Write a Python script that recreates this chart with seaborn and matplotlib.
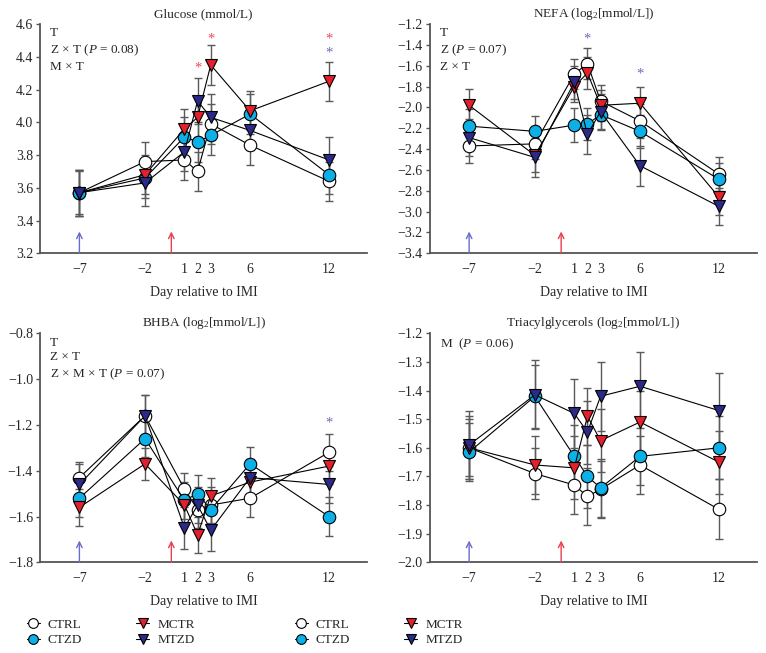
import numpy as np
import pandas as pd
import seaborn as sns
import matplotlib.pyplot as plt
from matplotlib.lines import Line2D
from matplotlib.ticker import FuncFormatter

# days of sampling
days = [-7, -2, 1, 2, 3, 6, 12]
day_labels = ["\u22127", "\u22122", "1", "2", "3", "6", "12"]
groups = ["CTRL", "CTZD", "MCTR", "MTZD"]

# Glucose (mmol/L)
glu_ctrl = [3.57, 3.76, 3.77, 3.70, 3.99, 3.86, 3.64]
glu_ctzd = [3.57, 3.66, 3.91, 3.88, 3.92, 4.05, 3.68]
glu_mctr = [3.57, 3.68, 3.96, 4.03, 4.35, 4.07, 4.25]
glu_mtzd = [3.57, 3.63, 3.82, 4.13, 4.03, 3.95, 3.77]
glu_sem_ctrl = [0.14, 0.12, 0.12, 0.12, 0.12, 0.12, 0.12]
glu_sem_ctzd = [0.13, 0.12, 0.12, 0.12, 0.12, 0.12, 0.12]
glu_sem_mctr = [0.14, 0.12, 0.12, 0.12, 0.12, 0.12, 0.12]
glu_sem_mtzd = [0.14, 0.14, 0.12, 0.14, 0.14, 0.12, 0.14]

# NEFA (log2 mmol/L)
nefa_ctrl = [-2.37, -2.35, -1.68, -1.58, -1.94, -2.13, -2.64]
nefa_ctzd = [-2.18, -2.23, -2.17, -2.16, -2.07, -2.23, -2.69]
nefa_mctr = [-1.98, -2.46, -1.80, -1.67, -1.98, -1.96, -2.86]
nefa_mtzd = [-2.29, -2.48, -1.76, -2.26, -2.04, -2.56, -2.95]
nefa_sem_ctrl = [0.16, 0.15, 0.14, 0.15, 0.15, 0.16, 0.16]
nefa_sem_ctzd = [0.16, 0.15, 0.16, 0.15, 0.15, 0.16, 0.16]
nefa_sem_mctr = [0.16, 0.16, 0.15, 0.15, 0.15, 0.16, 0.17]
nefa_sem_mtzd = [0.18, 0.19, 0.16, 0.19, 0.17, 0.19, 0.18]

# BHBA (log2 mmol/L)
bhba_ctrl = [-1.43, -1.16, -1.48, -1.57, -1.55, -1.52, -1.32]
bhba_ctzd = [-1.52, -1.26, -1.53, -1.50, -1.57, -1.37, -1.60]
bhba_mctr = [-1.56, -1.37, -1.55, -1.68, -1.51, -1.45, -1.38]
bhba_mtzd = [-1.46, -1.16, -1.65, -1.55, -1.66, -1.43, -1.46]
bhba_sem_ctrl = [0.07, 0.09, 0.07, 0.08, 0.08, 0.08, 0.08]
bhba_sem_ctzd = [0.08, 0.08, 0.08, 0.08, 0.08, 0.075, 0.085]
bhba_sem_mctr = [0.08, 0.07, 0.08, 0.08, 0.08, 0.08, 0.08]
bhba_sem_mtzd = [0.09, 0.09, 0.09, 0.08, 0.09, 0.08, 0.08]

# Triacylglycerols (log2 mmol/L)
tag_ctrl = [-1.60, -1.69, -1.73, -1.77, -1.745, -1.66, -1.815]
tag_ctzd = [-1.615, -1.42, -1.63, -1.70, -1.74, -1.63, -1.60]
tag_mctr = [-1.60, -1.66, -1.67, -1.49, -1.575, -1.51, -1.65]
tag_mtzd = [-1.59, -1.415, -1.48, -1.545, -1.42, -1.385, -1.47]
tag_sem_ctrl = [0.10, 0.09, 0.10, 0.10, 0.10, 0.10, 0.105]
tag_sem_ctzd = [0.10, 0.11, 0.11, 0.11, 0.10, 0.10, 0.11]
tag_sem_mctr = [0.11, 0.10, 0.11, 0.10, 0.11, 0.11, 0.11]
tag_sem_mtzd = [0.12, 0.12, 0.12, 0.11, 0.12, 0.12, 0.13]

# significance stars: (day, y, colour)
glu_stars = [(2, 4.33, "r"), (3, 4.51, "r"), (12, 4.51, "r"), (12, 4.42, "b")]
nefa_stars = [(2, -1.34, "b"), (6, -1.68, "b")]
bhba_stars = [(12, -1.19, "b")]
tag_stars = []

sns.set_style("ticks")
plt.rcParams["font.family"] = ["Liberation Serif", "DejaVu Serif"]
plt.rcParams["mathtext.fontset"] = "custom"
plt.rcParams["mathtext.rm"] = "Liberation Serif"
plt.rcParams["mathtext.it"] = "Liberation Serif:italic"
plt.rcParams["axes.unicode_minus"] = True

face = {"CTRL": "white", "CTZD": "#0db0e6", "MCTR": "#e3202c", "MTZD": "#2b2a88"}
mark = {"CTRL": "o", "CTZD": "o", "MCTR": "v", "MTZD": "v"}
star_col = {"r": "#ec4a5c", "b": "#6b6bbf"}
fs = 9.5

panels = [
    ("Glucose (mmol/L)", [glu_ctrl, glu_ctzd, glu_mctr, glu_mtzd],
     [glu_sem_ctrl, glu_sem_ctzd, glu_sem_mctr, glu_sem_mtzd],
     (3.2, 4.6), 0.2, "T\nZ \u00d7 T ($\\mathit{P}$ = 0.08)\nM \u00d7 T", glu_stars),
    ("NEFA (log$_2$[mmol/L])", [nefa_ctrl, nefa_ctzd, nefa_mctr, nefa_mtzd],
     [nefa_sem_ctrl, nefa_sem_ctzd, nefa_sem_mctr, nefa_sem_mtzd],
     (-3.4, -1.2), 0.2, "T\nZ ($\\mathit{P}$ = 0.07)\nZ \u00d7 T", nefa_stars),
    ("BHBA (log$_2$[mmol/L])", [bhba_ctrl, bhba_ctzd, bhba_mctr, bhba_mtzd],
     [bhba_sem_ctrl, bhba_sem_ctzd, bhba_sem_mctr, bhba_sem_mtzd],
     (-1.8, -0.8), 0.2, "T\nZ \u00d7 T\nZ \u00d7 M \u00d7 T ($\\mathit{P}$ = 0.07)", bhba_stars),
    ("Triacylglycerols (log$_2$[mmol/L])", [tag_ctrl, tag_ctzd, tag_mctr, tag_mtzd],
     [tag_sem_ctrl, tag_sem_ctzd, tag_sem_mctr, tag_sem_mtzd],
     (-2.0, -1.2), 0.1, "M  ($\\mathit{P}$ = 0.06)", tag_stars),
]

boxes = [
    [40 / 766, 1 - 253.3 / 653, 327 / 766, 229.3 / 653],
    [429.7 / 766, 1 - 253.3 / 653, 327.3 / 766, 229.3 / 653],
    [40 / 766, 1 - 562.3 / 653, 327 / 766, 229 / 653],
    [429.7 / 766, 1 - 562.3 / 653, 327.3 / 766, 229 / 653],
]

fig = plt.figure(figsize=(7.66, 6.53), dpi=100)

for (title, series, sems, ylim, step, note, stars), box in zip(panels, boxes):
    ax = fig.add_axes(box)
    for g, vals, sem in zip(groups, series, sems):
        ax.errorbar(days, vals, yerr=sem, fmt="none", ecolor="#5a5a5a",
                    elinewidth=1.0, capsize=3.2, capthick=1.0, zorder=1.5)
        df = pd.DataFrame({"day": days, "value": vals})
        sns.lineplot(data=df, x="day", y="value", ax=ax, color="black", lw=0.8,
                     marker=mark[g], markersize=9, markerfacecolor=face[g],
                     markeredgecolor="black", markeredgewidth=0.8,
                     errorbar=None, zorder=3)
    for d, y, c in stars:
        ax.text(d, y, "*", color=star_col[c], ha="center", va="center", fontsize=fs + 1)
    # arrows: blue at day -7, red at day 0
    for xa, ca in [(-7, "#6b6bcf"), (0, "#e8404f")]:
        ax.annotate("", xy=(xa, 0.095), xytext=(xa, 0.0),
                    xycoords=("data", "axes fraction"), textcoords=("data", "axes fraction"),
                    arrowprops=dict(arrowstyle="->", color=ca, lw=1.0, shrinkA=0, shrinkB=0))
    ax.text(0.03, 0.985, note, transform=ax.transAxes, ha="left", va="top",
            fontsize=fs, linespacing=1.3)
    ax.set_xlim(-10, 14.9)
    ax.set_ylim(*ylim)
    ax.set_yticks(np.arange(ylim[0], ylim[1] + step / 2, step))
    ax.yaxis.set_major_formatter(FuncFormatter(lambda v, p: f"{v:.1f}".replace("-", "\u2212")))
    ax.set_xticks(days)
    ax.set_xticklabels(day_labels)
    ax.tick_params(axis="x", length=0, labelsize=fs + 0.5, pad=7)
    ax.tick_params(axis="y", length=3, width=1, color="#555555", labelsize=fs + 0.5, pad=2)
    ax.set_title(title, fontsize=fs, pad=5)
    ax.set_xlabel("Day relative to IMI", fontsize=fs + 0.5, labelpad=7)
    ax.set_ylabel("")
    sns.despine(ax=ax)
    for s in ["left", "bottom"]:
        ax.spines[s].set_color("#555555")
        ax.spines[s].set_linewidth(1.3)

handles = [Line2D([0], [0], color="black", lw=0.8, marker=mark[g], markersize=7,
                  markerfacecolor=face[g], markeredgecolor="black", markeredgewidth=0.8)
           for g in groups]
for x0 in [20 / 766, 288 / 766]:
    fig.legend(handles, groups, ncol=2, loc="upper left", bbox_to_anchor=(x0, 1 - 612 / 653),
               frameon=False, fontsize=fs, handlelength=1.0, handletextpad=0.6,
               columnspacing=4.1, labelspacing=0.25, borderpad=0)

fig.savefig("out.png", dpi=100)
